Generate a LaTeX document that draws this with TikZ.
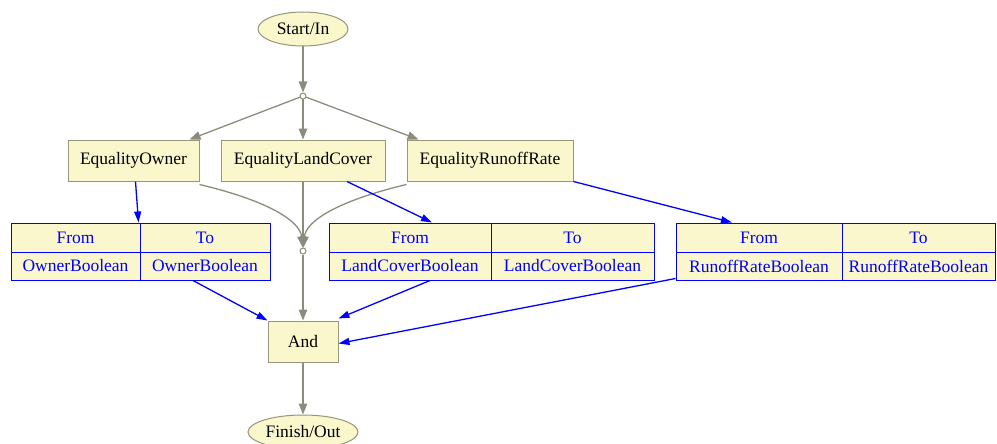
\documentclass[tikz,border=0pt]{standalone}
\usepackage{fontspec}
\setmainfont{Liberation Serif}
\usetikzlibrary{shapes.geometric, arrows.meta}
\definecolor{nodefill}{RGB}{250,247,205}
\definecolor{nodeline}{RGB}{150,150,120}
\definecolor{edgegray}{RGB}{140,140,125}
\tikzset{
  lbl/.style={font=\fontsize{17.5}{20}\selectfont},
  terminal/.style={ellipse, draw=nodeline, fill=nodefill, line width=1pt, inner sep=0pt, lbl},
  opbox/.style={rectangle, draw=nodeline, fill=nodefill, line width=1pt, minimum height=41pt, inner sep=0pt, lbl},
  tabcell/.style={rectangle, draw=blue, fill=nodefill, text=blue, line width=1pt, inner sep=0pt, lbl},
  joint/.style={circle, draw=edgegray, fill=white, line width=1pt, minimum size=6pt, inner sep=0pt},
  flow/.style={draw=edgegray, line width=1.3pt, -{Triangle[length=11pt,width=8.5pt]}},
  dataflow/.style={draw=blue, line width=1.3pt, -{Triangle[length=11pt,width=7pt]}}
}

\begin{document}
\begin{tikzpicture}[x=1pt, y=-1pt]
  \useasboundingbox (0,0) rectangle (997,444);
  % start, end and joints
  \node[terminal, minimum width=90pt, minimum height=34pt] (start) at (303,29) {Start/In};
  \node[joint] (j1) at (303,96) {};
  \node[joint] (j2) at (303,251) {};
  \node[terminal, minimum width=110pt, minimum height=34pt] (finish) at (303,432) {Finish/Out};
  % operators
  \node[opbox, minimum width=131pt] (eqown) at (133.5,160.5) {EqualityOwner};
  \node[opbox, minimum width=164pt] (eqland) at (303,160.5) {EqualityLandCover};
  \node[opbox, minimum width=166pt] (eqrun) at (490,160.5) {EqualityRunoffRate};
  \node[opbox, minimum width=70pt] (and) at (303,341.5) {And};
  % record tables
  \node[tabcell, minimum width=129pt, minimum height=29pt] (ownFrom) at (75.5,237.5) {From};
  \node[tabcell, minimum width=130pt, minimum height=29pt] (ownTo) at (205,237.5) {To};
  \node[tabcell, minimum width=129pt, minimum height=28pt] (ownFromV) at (75.5,266) {OwnerBoolean};
  \node[tabcell, minimum width=130pt, minimum height=28pt] (ownToV) at (205,266) {OwnerBoolean};
  \node[tabcell, minimum width=162pt, minimum height=29pt] (landFrom) at (410,237.5) {From};
  \node[tabcell, minimum width=163pt, minimum height=29pt] (landTo) at (572.5,237.5) {To};
  \node[tabcell, minimum width=162pt, minimum height=28pt] (landFromV) at (410,266) {LandCoverBoolean};
  \node[tabcell, minimum width=163pt, minimum height=28pt] (landToV) at (572.5,266) {LandCoverBoolean};
  \node[tabcell, minimum width=166pt, minimum height=29pt] (runFrom) at (759,237.5) {From};
  \node[tabcell, minimum width=153pt, minimum height=29pt] (runTo) at (918.5,237.5) {To};
  \node[tabcell, minimum width=166pt, minimum height=28pt] (runFromV) at (759,266) {RunoffRateBoolean};
  \node[tabcell, minimum width=153pt, minimum height=28pt] (runToV) at (918.5,266) {RunoffRateBoolean};
  % control flow
  \draw[flow] (start) -- (j1);
  \draw[flow] (j1) -- ([xshift=-10pt]eqown.north east);
  \draw[flow] (j1) -- (eqland);
  \draw[flow] (j1) -- ([xshift=12pt]eqrun.north west);
  \draw[flow] ([yshift=-3pt]eqown.south east) .. controls (265,200) and (300,220) .. (j2);
  \draw[flow] (eqland) -- (j2);
  \draw[flow] ([yshift=-3pt]eqrun.south west) .. controls (341,200) and (306,220) .. (j2);
  \draw[flow] (j2) -- (and);
  \draw[flow] (and) -- (finish);
  % data flow
  \draw[dataflow] ([xshift=2pt]eqown.south) -- ([xshift=-2pt]ownFrom.north east);
  \draw[dataflow] ([xshift=44pt]eqland.south) -- ([xshift=22pt]landFrom.north);
  \draw[dataflow] (eqrun.south east) -- ([xshift=-27pt]runFrom.north);
  \draw[dataflow] ([xshift=-12pt]ownToV.south) -- (and.north west);
  \draw[dataflow] ([xshift=20pt]landFromV.south) -- ([yshift=2pt]and.north east);
  \draw[dataflow] ([yshift=2pt]runFromV.south west) -- ([yshift=-2pt]and.east);
\end{tikzpicture}
\end{document}
